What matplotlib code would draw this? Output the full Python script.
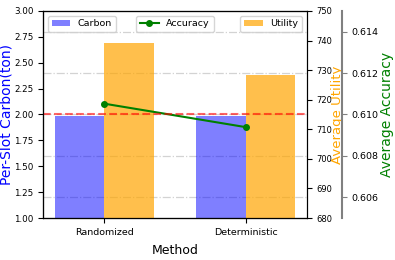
import matplotlib
matplotlib.use("Agg")
import matplotlib.pyplot as plt
import numpy as np
from matplotlib.lines import Line2D
from matplotlib.transforms import blended_transform_factory

methods = ["Randomized", "Deterministic"]
carbon = [1.99, 1.99]
utility = [739.2, 728.4]
accuracy = [0.61052, 0.60939]
carbon_budget = 2.0
acc_ticks = [0.606, 0.608, 0.610, 0.612, 0.614]

fig = plt.figure(figsize=(3.95, 2.6), dpi=100)
ax1 = fig.add_axes([0.109, 0.1615, 0.668, 0.7965])
x = np.arange(len(methods))
w = 0.35

ax1.bar(x - w / 2, carbon, w, color="blue", alpha=0.5, label="Carbon", zorder=2)
ax1.set_ylim(1.0, 3.0)
ax1.set_ylabel("Per-Slot Carbon(ton)", color="blue", fontsize=10, labelpad=0)
ax1.set_xlabel("Method", fontsize=9, labelpad=5)
ax1.set_xticks(x)
ax1.set_xticklabels(methods)
ax1.tick_params(axis="y", labelsize=6.3)
ax1.tick_params(axis="x", labelsize=6.8)

ax2 = ax1.twinx()
ax2.bar(x + w / 2, utility, w, color="orange", alpha=0.7, label="Utility")
ax2.set_ylim(680, 750)
ax2.set_ylabel("Average Utility", color="orange", fontsize=9.5, labelpad=-1)
ax2.tick_params(axis="y", labelsize=6)

ax3 = ax1.twinx()
ax3.spines["right"].set_position(("axes", 1.1326))
ax3.spines["right"].set_color("gray")
ax3.spines["right"].set_linewidth(1.5)
ax3.tick_params(axis="y", labelcolor="black", color="gray", labelsize=6.8)
ax3.plot(x, accuracy, color="green", marker="o", markersize=4, linewidth=1.5, label="Accuracy")
ax3.set_ylim(0.605, 0.615)
ax3.set_yticks(acc_ticks)
ax3.set_ylabel("Average Accuracy", color="green", fontsize=10, labelpad=1)

# grid lines behind the bars, at the accuracy ticks
gtrans = blended_transform_factory(ax1.transAxes, ax3.transData)
for g in acc_ticks:
    ax1.add_line(Line2D([0, 1], [g, g], transform=gtrans, color="lightgray",
                        linestyle="-.", linewidth=0.9, zorder=1))

# carbon budget line on top
btrans = blended_transform_factory(ax3.transAxes, ax1.transData)
ax3.add_line(Line2D([0, 1], [carbon_budget, carbon_budget], transform=btrans,
                    color="red", linestyle="--", linewidth=1.5, alpha=0.6))

ax1.legend(loc="upper left", fontsize=6.8)
ax3.legend(loc="upper center", fontsize=6.8)
ax2.legend(loc="upper right", fontsize=6.8)

fig.savefig("out.png", dpi=100)
